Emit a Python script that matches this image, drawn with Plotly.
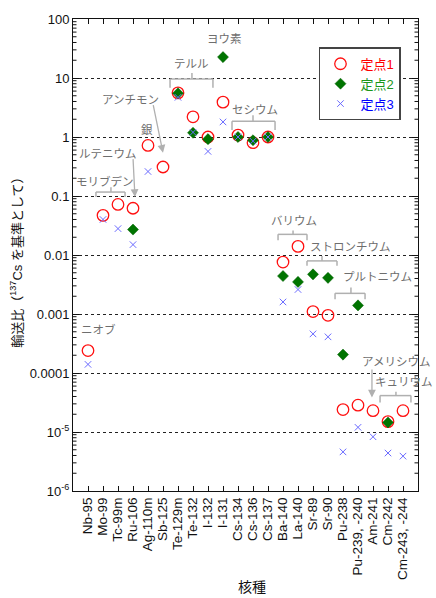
import plotly.graph_objects as go

# Nuclides on the x axis
nuclides = ["Nb-95", "Mo-99", "Tc-99m", "Ru-106", "Ag-110m", "Sb-125", "Te-129m",
            "Te-132", "I-132", "I-131", "Cs-134", "Cs-136", "Cs-137", "Ba-140",
            "La-140", "Sr-89", "Sr-90", "Pu-238", "Pu-239, -240", "Am-241",
            "Cm-242", "Cm-243, -244"]

# Transport ratio relative to Cs-137 at each monitoring point
site1 = [2.4e-4, 0.047, 0.072, 0.062, 0.72, 0.31, 5.6, 2.2, 1.0, 3.9, 1.08, 0.80,
         1.0, 0.0076, 0.014, 0.0011, 0.00095, 2.4e-5, 2.85e-5, 2.3e-5, 1.5e-5, 2.3e-5]
site2 = [None, None, None, 0.027, None, None, 5.5, 1.18, 0.92, 22.6, 1.0, 0.88,
         1.0, 0.0044, 0.0035, 0.0047, 0.0041, 2.05e-4, 0.0014, None, 1.45e-5, None]
site3 = [1.4e-4, 0.040, 0.028, 0.015, 0.26, None, 4.7, 1.2, 0.57, 1.8, 1.0, 0.85,
         1.0, 0.0016, 0.0026, 0.00046, 0.00041, 4.6e-6, 1.2e-5, 8.3e-6, 4.4e-6, 3.9e-6]

series_names = ["定点1", "定点2", "定点3"]

y_tickvals = [1e-6, 1e-5, 1e-4, 1e-3, 1e-2, 1e-1, 1, 10, 100]
y_ticktext = ["10<sup>-6</sup>", "10<sup>-5</sup>", "0.0001", "0.001", "0.01",
              "0.1", "1", "10", "100"]

FONT = "Liberation Sans, Arial, Noto Sans CJK JP, sans-serif"
GRAY_TXT = "#6e6e6e"
GRAY_LINE = "#b0b0b0"

fig = go.Figure()
fig.add_trace(go.Scatter(
    x=nuclides, y=site1, mode="markers",
    name=f"<span style='color:#ff0000'>{series_names[0]}</span>",
    marker=dict(symbol="circle-open", size=11.5, color="#ff1010",
                line=dict(width=1.3, color="#ff1010"))))
fig.add_trace(go.Scatter(
    x=nuclides, y=site2, mode="markers",
    name=f"<span style='color:#1a961a'>{series_names[1]}</span>",
    marker=dict(symbol="diamond", size=8.5, color="#007400",
                line=dict(width=0.5, color="#006000"))))
fig.add_trace(go.Scatter(
    x=nuclides, y=site3, mode="markers",
    name=f"<span style='color:#0000ff'>{series_names[2]}</span>",
    marker=dict(symbol="x-thin-open", size=6.5, color="#6a6aff",
                line=dict(width=1, color="#6a6aff"))))

# Element group labels: (text, x index, log10 y)
labels = [
    ("ヨウ素", 9.07, 1.67),
    ("テルル", 6.87, 1.25),
    ("アンチモン", 2.8, 0.65),
    ("銀", 3.93, 0.135),
    ("ルテニウム", 1.33, -0.265),
    ("モリブデン", 1.13, -0.75),
    ("セシウム", 11.13, 0.48),
    ("ニオブ", 0.67, -3.25),
    ("バリウム", 13.73, -1.40),
    ("ストロンチウム", 17.47, -1.85),
    ("プルトニウム", 19.27, -2.35),
    ("アメリシウム", 20.53, -3.80),
]
label_font = dict(size=11.5, color=GRAY_TXT, family="Noto Sans CJK JP")
for text, xi, ly in labels:
    fig.add_annotation(x=xi, y=ly, xref="x", yref="y", text=text, showarrow=False,
                       font=label_font)
# Curium label runs past the right edge of the frame, so it is placed on paper
fig.add_annotation(x=1.049, y=0.233, xref="paper", yref="paper", text="キュリウム",
                   xanchor="right", yanchor="middle", showarrow=False,
                   font=label_font)

# Brackets: (x0, x1, x_center, log bar, log ends, log tick)
brackets = [
    (5.47, 8.33, 6.93, 0.983, 0.833, 1.083),
    (0.53, 2.47, 1.53, -0.933, -1.017, -0.85),
    (9.6, 12.47, 11.0, 0.267, 0.117, 0.367),
    (12.67, 14.6, 13.67, -1.65, -1.75, -1.583),
    (14.6, 16.6, 15.6, -2.10, -2.183, -2.017),
    (16.47, 18.47, 17.53, -2.65, -2.75, -2.55),
    (19.47, 21.53, 20.53, -4.383, -4.5, -4.317),
]
for x0, x1, xc, lb, le, lt in brackets:
    b, e, t = 10 ** lb, 10 ** le, 10 ** lt
    for (xa, ya, xb, yb) in [(x0, e, x0, b), (x0, b, x1, b), (x1, b, x1, e), (xc, b, xc, t)]:
        fig.add_shape(type="line", xref="x", yref="y", x0=xa, y0=ya, x1=xb, y1=yb,
                      line=dict(color=GRAY_LINE, width=1.5))

# Arrows: (tail x, tail log y, head x, head log y)
arrows = [
    (4.33, 0.567, 5.0, -0.267),
    (3.0, -0.35, 3.13, -1.017),
    (18.93, -3.917, 18.93, -4.417),
]
for tx, ty, hx, hy in arrows:
    fig.add_annotation(x=hx, y=hy, ax=tx, ay=ty, xref="x", yref="y",
                       axref="x", ayref="y", text="", showarrow=True,
                       arrowhead=2, arrowsize=1.2, arrowwidth=1.3,
                       arrowcolor=GRAY_LINE)

# Minor ticks of the log axis, inside on both sides of the frame
minor_vals = [m * 10 ** k for k in range(-6, 2) for m in range(2, 10)]
for v in minor_vals:
    for xa, xb in [(0, 3.5 / 345), (1 - 3.5 / 345, 1)]:
        fig.add_shape(type="line", xref="paper", yref="y", x0=xa, x1=xb, y0=v, y1=v,
                      line=dict(color="#111", width=1))

# Axis titles
fig.add_annotation(x=-0.165, y=0.49, xref="paper", yref="paper", textangle=-90,
                   xanchor="center", yanchor="middle",
                   text="輸送比（<sup>137</sup>Cs を基準として）", showarrow=False,
                   font=dict(size=13, color="#111", family=FONT))
fig.add_annotation(x=0.52, y=-0.203, xref="paper", yref="paper",
                   xanchor="center", yanchor="middle",
                   text="核種", showarrow=False,
                   font=dict(size=14, color="#111", family=FONT))

fig.update_layout(
    width=436, height=598,
    margin=dict(l=73, r=18, t=14, b=107),
    paper_bgcolor="white", plot_bgcolor="white",
    font=dict(family=FONT, size=13, color="#111"),
    showlegend=True,
    legend=dict(x=0.713, y=0.94, xanchor="left", yanchor="top",
                bgcolor="white", bordercolor="#444", borderwidth=1.5,
                font=dict(size=13, family=FONT), tracegroupgap=0,
                itemwidth=30),
    xaxis=dict(type="category", range=[-1, 22], showline=True, linecolor="#111",
               linewidth=1, mirror="ticks", ticks="inside", ticklen=5,
               tickcolor="#111", tickangle=-90, showgrid=False,
               tickmode="array", tickvals=nuclides, ticktext=nuclides,
               tickfont=dict(size=13.5, color="#111")),
    yaxis=dict(type="log", range=[-6, 2], showline=True, linecolor="#111",
               linewidth=1, mirror="ticks", ticks="inside", ticklen=6,
               tickcolor="#111", tickvals=y_tickvals, ticktext=y_ticktext,
               showgrid=True, gridcolor="#222", griddash="dot", gridwidth=1,
               zeroline=False, tickfont=dict(size=13, color="#111")),
)

fig.write_html("out.html")
